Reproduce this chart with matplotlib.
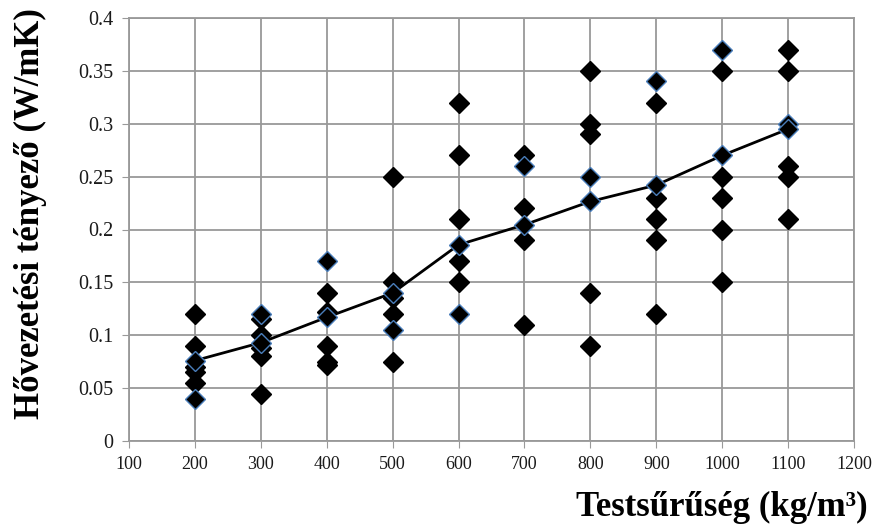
import numpy as np
import matplotlib.pyplot as plt

plt.rcParams['font.family'] = ['Liberation Serif', 'DejaVu Serif']

# Measured points (black diamonds)
x_black = [200, 200, 200, 200, 200,
           300, 300, 300, 300, 300,
           400, 400, 400, 400, 400,
           500, 500, 500, 500, 500,
           600, 600, 600, 600, 600,
           700, 700, 700, 700,
           800, 800, 800, 800, 800,
           900, 900, 900, 900, 900,
           1000, 1000, 1000, 1000, 1000,
           1100, 1100, 1100, 1100, 1100]
y_black = [0.12, 0.09, 0.07, 0.065, 0.055,
           0.115, 0.10, 0.088, 0.08, 0.044,
           0.14, 0.122, 0.09, 0.075, 0.072,
           0.25, 0.15, 0.135, 0.12, 0.075,
           0.32, 0.27, 0.21, 0.17, 0.15,
           0.27, 0.22, 0.19, 0.11,
           0.35, 0.30, 0.29, 0.14, 0.09,
           0.32, 0.23, 0.21, 0.19, 0.12,
           0.35, 0.25, 0.23, 0.20, 0.15,
           0.37, 0.35, 0.26, 0.25, 0.21]

# Second series (blue-edged diamonds)
x_blue = [200, 300, 400, 500, 600, 700, 800, 900, 1000, 1100]
y_blue = [0.04, 0.12, 0.17, 0.105, 0.12, 0.26, 0.25, 0.34, 0.37, 0.30]

# Average curve
x_avg = [200, 300, 400, 500, 600, 700, 800, 900, 1000, 1100]
y_avg = [0.076, 0.093, 0.117, 0.14, 0.1855, 0.2045, 0.2265, 0.242, 0.27, 0.295]

fig = plt.figure(figsize=(8.79, 5.32), dpi=100)
ax = fig.add_axes([129 / 879, 1 - 441 / 532, (854 - 129) / 879, (441 - 18) / 532])

ax.plot(x_black, y_black, 'D', color='black', ms=10, zorder=3)
ax.plot(x_blue, y_blue, 'D', mfc='black', mec='#4a7ebb', mew=1.0, ms=10, zorder=4)
ax.plot(x_avg, y_avg, '-', color='black', lw=2, marker='D', mfc='black',
        mec='#4a7ebb', mew=1.0, ms=10, zorder=5)

ax.set_xlim(100, 1200)
ax.set_ylim(0, 0.4)
ax.set_xticks(np.arange(100, 1201, 100))
ax.set_yticks(np.arange(0, 0.41, 0.05))
ax.set_yticklabels(['0', '0.05', '0.1', '0.15', '0.2', '0.25', '0.3', '0.35', '0.4'])
ax.grid(True, color='#999999', lw=1.3)
ax.set_axisbelow(True)
for s in ax.spines.values():
    s.set_color('#999999')
    s.set_linewidth(1.3)
ax.tick_params(direction='out', length=5, color='#999999',
               labelcolor='#1a1a1a', pad=6)
ax.tick_params(axis='x', labelsize=13)
ax.tick_params(axis='y', labelsize=14.5)

fig.text(0.035, 1 - 214 / 532, 'Hővezetési tényező (W/mK)', rotation=90,
         ha='center', va='center', fontsize=25, fontweight='bold')
fig.text(868 / 879, 1 - 507 / 532, 'Testsűrűség (kg/m³)', ha='right', va='center',
         fontsize=25, fontweight='bold')

fig.savefig('out.png', dpi=100)
